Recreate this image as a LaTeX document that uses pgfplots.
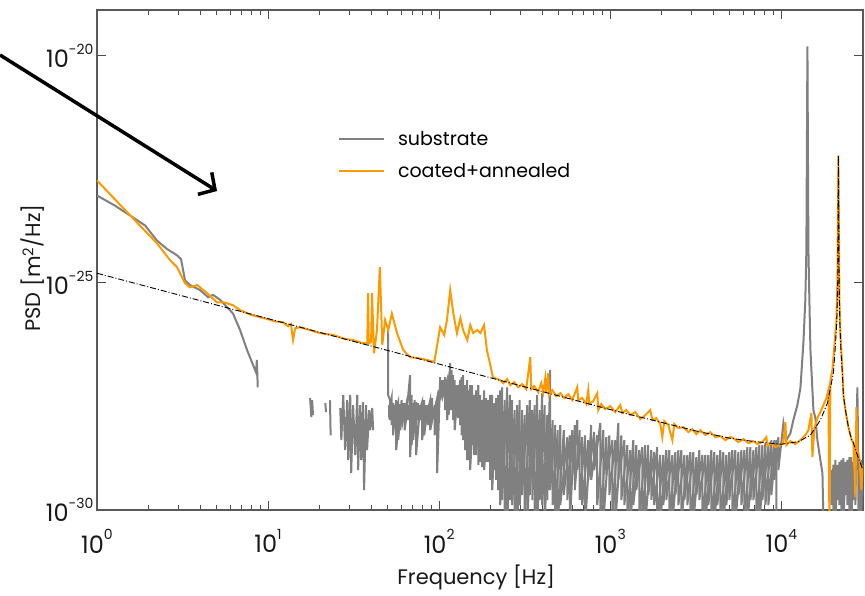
\documentclass[border=0pt]{standalone}
\usepackage{pgfplots}
\pgfplotsset{compat=1.18}
\usepackage{fontspec}
\setmainfont{Poppins}
\usetikzlibrary{arrows.meta}
\definecolor{sub}{RGB}{128,128,128}
\definecolor{coat}{RGB}{255,153,0}
\newcommand\tl[1]{10\raisebox{0.55em}{\fontsize{14}{14}\selectfont #1}}
\begin{document}
\begin{tikzpicture}
\begin{axis}[
 scale only axis, width=766pt, height=500pt,
 xmode=log, ymode=log,
 xmin=1, xmax=30000, ymin=1e-30, ymax=1e-19,
 xtick={1,10,100,1000,10000},
 xticklabels={\tl{0},\tl{1},\tl{2},\tl{3},\tl{4}},
 ytick={1e-30,1e-25,1e-20},
 yticklabels={\tl{-30},\tl{-25},\tl{-20}},
 yminorticks=false,
 tick align=inside,
 major tick length=9pt, minor tick length=5pt,
 axis line style={black!65, line width=1.2pt},
 tick style={black!70, line width=1pt},
 tick label style={font=\fontsize{24}{24}\selectfont, text=black!90},
 xticklabel style={yshift=-16pt},
 label style={font=\fontsize{21}{21}\selectfont, text=black!90},
 xlabel={Frequency [Hz]},
 ylabel={PSD [m\textsuperscript{2}/Hz]},
 xlabel style={at={(rel axis cs:0.495,-0.134)}, anchor=center},
 ylabel style={at={(rel axis cs:-0.0836,0.484)}, anchor=center},
 unbounded coords=jump,
 legend cell align=left,
 legend style={at={(rel axis cs:0.3105,0.765)}, anchor=north west, draw=none, fill=none,
   font=\fontsize{19}{19}\selectfont, row sep=12pt},
 legend image code/.code={\draw[#1] (0pt,0pt) -- (45pt,0pt); \path (56pt,0pt);},
]
% substrate
\addplot[sub, line width=2pt] coordinates {
(1,8.3e-24) (1.27,5.0e-24) (1.62,2.75e-24) (1.91,1.82e-24) (2.24,8.5e-25) (2.57,5.5e-25)
(2.94,4.0e-25) (3.1,3.3e-25) (3.27,1.12e-25) (3.5,8.9e-26) (4.0,6.9e-26) (4.46,4.8e-26)
(4.77,5.4e-26) (5.25,4.2e-26) (5.76,2.9e-26) (6.24,2.1e-26) (6.86,9.1e-27) (7.54,3.3e-27)
(8.17,1.55e-27) (8.5,1.07e-27) (8.6,2.0e-27) (8.7,5.0e-28) (8.8,nan)
(17.6,2.9e-28) (17.9,1.11e-28) (18.1,2.6e-28) (18.3,1.22e-28) (18.5,nan)
(21.6,2.25e-28) (21.8,1.43e-28) (22,nan)
(23.0,2.6e-28) (23.2,4.4e-29) (23.5,nan)
(26.4,1.75e-28) (26.8,3.45e-29) (27.5,3.4e-28) (28.2,2.08e-29) (29.0,2.6e-28) (29.4,1.26e-29)
(30.2,3.4e-28) (30.6,6.5e-30) (31.4,2.03e-28) (32.3,1.62e-29) (33.2,3.4e-28) (33.6,7.6e-30)
(34.5,2.03e-28) (35.0,1.26e-29) (35.9,2.37e-28) (36.4,2.75e-30) (37.4,2.03e-28) (37.9,2.08e-29)
(39.0,1.58e-28) (39.5,5.7e-29) (40.6,1.75e-28) (41.1,5.7e-29) (42,nan)
(50.3,1.05e-26) (50.3,3.4e-28) (51.7,2.6e-28) (51.7,9.5e-29) (53.8,2.25e-28) (53.8,4.4e-29)
(56.1,2.6e-28) (56.1,2.08e-29) (59.2,2.14e-28) (59.2,5.7e-29) (61.5,2.25e-28) (61.5,9.5e-29)
(64.1,2.03e-28) (64.1,1.05e-28) (67.6,9.3e-28) (67.6,1.46e-29) (70.5,2.25e-28) (70.5,3.45e-29)
(73.3,2.37e-28) (73.3,1.62e-29) (77.4,2.03e-28) (77.4,9.5e-29) (81.7,2.6e-28) (81.7,4.4e-29)
(86.2,2.03e-28) (86.2,7.4e-29) (91.0,2.9e-28) (91.0,9.5e-29) (97.3,2.9e-28) (97.3,6.5e-30)
(101.4,8.4e-28) (101.4,2.6e-28) (105.5,7.2e-28) (105.5,3.4e-28) (111.4,7.2e-28) (111.4,9.5e-29)
(115.9,1.7e-27) (115.9,1.58e-28) (120.8,9.3e-28) (120.8,9.5e-29) (125.7,5.6e-28) (125.7,1.22e-28)
(132.7,7.2e-28) (132.7,7.4e-29) (138.1,9.3e-28) (138.1,3.45e-29) (145.8,7.2e-28) (145.8,1.26e-29)
(151.7,5.6e-28) (151.7,7.6e-30) (160.2,3.4e-28) (160.2,1.62e-29) (169.2,5.6e-28) (169.2,9.8e-30)
(178.4,2.6e-28) (178.4,8.8e-30) (188.3,2.9e-28) (188.3,1.14e-29) (198.6,3.4e-28) (198.6,4.6e-30)
(209.9,2.25e-28) (209.9,7.6e-30) (221.3,3.4e-28) (221.3,2.75e-30) (233.5,5.0e-28) (233.5,1.66e-30)
(249.9,5.0e-28) (249.9,5e-31) (267.3,2.6e-28) (267.3,1.29e-30) (285.8,2.03e-28) (285.8,5e-31)
(305.6,1.58e-28) (305.6,2.14e-30) (327.2,2.03e-28) (327.2,5e-31) (349.9,1.58e-28) (349.9,1.66e-30)
(374.1,3.4e-28) (374.1,5e-31) (400.0,3.7e-28) (400.0,1.29e-30) (428.2,1.22e-28) (428.2,1.66e-30)
(445.7,1.19e-27) (445.7,2.75e-30) (476.5,7.4e-29) (476.5,5e-31) (510.2,7.4e-29) (510.2,1.29e-30)
(561.0,4.0e-29) (561.0,1.66e-30) (599.6,5.7e-29) (599.6,5.9e-30) (641.2,9.5e-29) (641.2,7.6e-30)
(685.5,4.0e-29) (685.5,1.29e-30) (743.0,3.45e-29) (743.0,4.6e-30) (805.4,5.2e-29) (805.4,7.6e-30)
(874.2,8.2e-29) (874.2,5e-31) (947.5,4.0e-29) (947.5,5.9e-30) (1028,3.45e-29) (1028,5e-31)
(1114,8.2e-29) (1114,4.6e-30) (1208,3.45e-29) (1208,1.29e-30) (1309,2.08e-29) (1309,5e-31)
(1419,2.68e-29) (1419,2.75e-30) (1538,2.42e-29) (1538,5e-31) (1667,2.68e-29) (1667,2.14e-30)
(1807,1.88e-29) (1807,1.29e-30) (1959,1.62e-29) (1959,5e-31) (2124,2.08e-29) (2124,1.66e-30)
(2305,1.62e-29) (2305,5e-31) (2500,2.08e-29) (2500,1.29e-30) (2710,1.62e-29) (2710,1.66e-30)
(2937,1.88e-29) (2937,5e-31) (3184,1.46e-29) (3184,2.14e-30) (3451,1.62e-29) (3451,5e-31)
(3741,1.62e-29) (3741,1.29e-30) (4055,1.88e-29) (4055,5e-31) (4395,2.08e-29) (4395,5e-31)
(4764,1.62e-29) (4764,1.29e-30) (5164,2.08e-29) (5164,5e-31) (5610,1.88e-29) (5610,2.14e-30)
(6081,2.08e-29) (6081,5e-31) (6592,2.42e-29) (6592,1.66e-30) (7145,2.42e-29) (7145,5e-31)
(7745,2.68e-29) (7745,1.66e-30) (8395,2.68e-29) (8395,1.29e-30) (9100,3.45e-29) (9100,4.6e-30)
(9600,4.0e-29) (9600,7.6e-30)
(10280,8.2e-29) (10690,3.45e-29) (11290,4.9e-29) (11750,9.5e-29) (12400,2.03e-28) (12920,4.8e-28)
(13450,4.7e-27) (13800,4.1e-26) (14000,5.2e-25) (14200,1.58e-20) (14390,5.2e-25) (14580,4.1e-26)
(14790,3.3e-27) (15390,1.58e-28) (15810,1.05e-28) (16240,3.45e-29) (16900,1.26e-29) (17380,6.5e-30)
(17620,5e-31) (18500,nan)
(19600,7.6e-30) (19600,1.29e-30) (20150,1.0e-29) (20150,5e-31) (20700,1.26e-29) (20700,5e-31)
(21270,9.8e-30) (21270,1.66e-30) (21840,1.14e-29) (21840,1.29e-30) (22450,1.26e-29) (22450,5e-31)
(23070,1.39e-29) (23070,5e-31) (23690,1.14e-29) (23690,2.14e-30) (24320,1.26e-29) (24320,1.29e-30)
(24970,1.46e-29) (24970,5e-31) (25640,1.46e-29) (25640,5e-31) (26360,1.14e-29) (26360,1.66e-30)
(27090,1.26e-29) (27090,1.29e-30) (27800,5.0e-28) (28190,1.14e-29) (28190,5e-31)
(28590,9.8e-30) (28590,1.66e-30) (29200,1.26e-29) (29200,5e-31) (29780,7.6e-30) (29780,2.14e-30)
};
\addlegendentry{substrate}
% substrate, interleaved samples of the noise band
\addplot[sub, line width=2pt, forget plot] coordinates {
(51.0,2.03e-28) (51.0,1.58e-28) (52.7,2.9e-28) (52.7,7.4e-29) (54.9,2.03e-28) (54.9,1.22e-28)
(57.6,2.37e-28) (57.6,3.45e-29) (60.3,2.6e-28) (60.3,1.05e-28) (62.8,2.25e-28) (62.8,5.7e-29)
(65.8,2.03e-28) (65.8,9.5e-29) (69.0,3.4e-28) (69.0,2.68e-29) (71.9,2.6e-28) (71.9,7.4e-29)
(75.3,2.25e-28) (75.3,1.22e-28) (79.5,2.37e-28) (79.5,3.45e-29) (83.9,2.03e-28) (83.9,1.05e-28)
(88.6,2.6e-28) (88.6,5.7e-29) (94.1,2.03e-28) (94.1,4.4e-29) (99.3,4.3e-28) (99.3,2.03e-28)
(103.4,7.2e-28) (103.4,2.9e-28) (108.4,8.4e-28) (108.4,1.58e-28) (113.6,9.3e-28) (113.6,1.22e-28)
(118.3,1.19e-27) (118.3,1.58e-28) (123.2,7.2e-28) (123.2,5.7e-29) (129.2,5.6e-28) (129.2,1.05e-28)
(135.4,8.4e-28) (135.4,4.4e-29) (141.9,5.6e-28) (141.9,2.08e-29) (148.7,4.3e-28) (148.7,1.26e-29)
(155.9,5.6e-28) (155.9,2.68e-29) (164.6,4.3e-28) (164.6,1.62e-29) (173.7,3.4e-28) (173.7,1.14e-29)
(183.3,4.3e-28) (183.3,7.6e-30) (193.4,2.6e-28) (193.4,1.14e-29) (204.2,3.4e-28) (204.2,2.75e-30)
(215.5,2.9e-28) (215.5,4.6e-30) (227.3,4.3e-28) (227.3,1.29e-30) (241.6,2.6e-28) (241.6,5e-31)
(258.5,3.4e-28) (258.5,1.66e-30) (276.4,1.58e-28) (276.4,5e-31) (295.5,2.6e-28) (295.5,1.29e-30)
(316.2,1.22e-28) (316.2,5e-31) (338.4,2.6e-28) (338.4,2.14e-30) (361.8,2.03e-28) (361.8,5e-31)
(386.8,1.58e-28) (386.8,1.66e-30) (413.9,2.03e-28) (413.9,5e-31) (436.9,1.22e-28) (436.9,2.75e-30)
(460.8,9.5e-29) (460.8,1.29e-30) (493.1,5.7e-29) (493.1,5e-31) (535.0,5.7e-29) (535.0,2.14e-30)
(580,4.4e-29) (580,5e-31) (620,7.4e-29) (620,2.75e-30) (663,5.7e-29) (663,1.66e-30)
(714,4.4e-29) (714,5e-31) (774,7.4e-29) (774,4.6e-30) (839,4.4e-29) (839,1.29e-30)
(910,5.7e-29) (910,5e-31) (987,4.4e-29) (987,2.14e-30) (1070,3.45e-29) (1070,5e-31)
(1160,4.4e-29) (1160,1.66e-30) (1257,2.68e-29) (1257,5e-31) (1363,3.45e-29) (1363,1.29e-30)
(1477,2.08e-29) (1477,5e-31) (1601,2.68e-29) (1601,5e-31) (1736,2.08e-29) (1736,1.66e-30)
(1881,2.42e-29) (1881,5e-31) (2040,1.62e-29) (2040,1.29e-30) (2213,2.08e-29) (2213,5e-31)
(2400,1.88e-29) (2400,2.14e-30) (2603,2.08e-29) (2603,5e-31) (2821,1.62e-29) (2821,1.29e-30)
(3058,1.88e-29) (3058,5e-31) (3315,2.08e-29) (3315,1.66e-30) (3593,1.62e-29) (3593,5e-31)
(3895,2.08e-29) (3895,5e-31) (4222,1.62e-29) (4222,1.29e-30) (4576,1.88e-29) (4576,5e-31)
(4960,1.88e-29) (4960,1.66e-30) (5382,2.08e-29) (5382,5e-31) (5841,2.08e-29) (5841,1.29e-30)
(6331,2.42e-29) (6331,5e-31) (6863,2.08e-29) (6863,1.66e-30) (7439,2.68e-29) (7439,5e-31)
(8063,3.0e-29) (8063,1.29e-30) (8740,3.45e-29) (8740,2.14e-30) (9347,3.45e-29) (9347,5e-31)
};
% coated + annealed
\addplot[coat, line width=2pt] coordinates {
(1,1.78e-23) (1.62,2.63e-24) (2.24,7.4e-25) (2.67,3.16e-25) (2.94,2.19e-25) (3.27,9.8e-26)
(3.5,7.9e-26) (3.85,8.9e-26) (4.4,5.9e-26) (5.03,3.7e-26) (5.53,3.7e-26) (6.24,3.2e-26)
(6.86,2.5e-26) (7.85,2.0e-26) (9.0,1.74e-26) (10,1.58e-26) (11,1.41e-26) (12.2,1.35e-26)
(13.1,1.1e-26) (13.6,1.23e-26) (14.0,5.5e-27) (14.4,1.0e-26) (15.4,1.05e-26) (17.6,9.1e-27)
(20,7.8e-27) (24,7.1e-27) (28.2,5.8e-27) (31.3,5.5e-27) (35.5,4.7e-27) (38,4.7e-27)
(38.4,5.9e-26) (38.8,4.6e-27) (40.0,5.0e-27) (40.5,5.9e-26) (41.6,2.8e-27) (43.3,9.1e-27)
(45,2.2e-25) (46.5,4.3e-27) (48.3,1.5e-26) (50.4,9.1e-27) (52.9,2.1e-26) (56.7,7.8e-27)
(61.7,3.3e-27) (67.6,2.3e-27) (75.3,2.2e-27) (85,2.0e-27) (93.6,1.8e-27) (101.3,1.05e-26)
(107,7.1e-27) (111,1.5e-26) (116,6.9e-26) (121,2.1e-26) (127,7.8e-27) (133,1.66e-26)
(138,9.1e-27) (146,5.5e-27) (152,1.17e-26) (158,7.8e-27) (167,9.1e-27) (174,7.8e-27)
(183,1.17e-26) (190,3.3e-27) (198,1.7e-27) (206,8.3e-28)
(227.3,7.19e-28) (236.7,6.18e-28) (249.9,7.57e-28) (260.2,5.58e-28) (274.6,6.50e-28) (289.7,5.05e-28)
(305.8,5.87e-28) (322.7,4.56e-28) (340.6,2.31e-27) (345.1,4.56e-28) (359.4,5.31e-28) (379.3,3.92e-28)
(395.0,6.18e-28) (405.7,3.92e-28) (416.8,7.96e-28) (422.5,3.72e-28) (434.1,1.03e-27) (440.0,3.37e-28)
(458.1,4.34e-28) (483.4,3.20e-28) (510.2,3.72e-28) (538.3,2.90e-28) (568.1,3.54e-28) (599.6,2.62e-28)
(641.2,5.05e-28) (650.0,2.62e-28) (686.0,2.90e-28) (723.8,2.14e-28) (743.6,4.34e-28) (753.6,2.14e-28)
(795.4,2.49e-28) (839.5,3.72e-28) (850.9,1.58e-28) (886.0,2.14e-28) (935.1,1.66e-28) (1000,1.93e-28)
(1070,1.43e-28) (1144,2.03e-28) (1176,1.36e-28) (1241,1.58e-28) (1309,1.22e-28) (1400,1.43e-28)
(1497,1.0e-28) (1602,1.22e-28) (1714,1.58e-28) (1761,9.5e-29) (1858,1.05e-28) (1961,7.76e-29)
(2014,4.02e-29) (2070,9.04e-29) (2184,7.38e-29) (2305,3.45e-29) (2367,7.76e-29) (2499,6.34e-29)
(2673,6.67e-29) (2858,5.18e-29) (3017,6.03e-29) (3184,4.68e-29) (3360,5.73e-29) (3594,4.45e-29)
(3843,5.18e-29) (4111,4.02e-29) (4398,4.23e-29) (4704,3.45e-29) (5031,4.02e-29) (5240,3.82e-29)
(5605,3.13e-29) (5995,3.63e-29) (6412,2.97e-29) (6859,3.28e-29) (7239,2.83e-29) (7743,3.13e-29)
(8172,4.02e-29) (8283,2.55e-29) (8741,2.97e-29) (9224,2.43e-29) (9866,2.69e-29) (10270,2.97e-29)
(10555,8.6e-29) (10696,2.69e-29) (11288,3.28e-29) (12075,2.83e-29) (12915,3.45e-29) (13815,4.45e-29)
(14386,5.73e-29) (14980,1.36e-28) (15183,1.46e-29) (15597,6.34e-29) (16238,1.05e-28) (16911,1.43e-28)
(17605,2.03e-28) (18334,2.90e-28) (18834,4.34e-28) (19090,5e-31) (19348,7.19e-28) (19876,1.19e-27)
(20418,4.23e-27) (20976,1.5e-26) (21260,1.135e-25) (21544,6.34e-23) (21838,4.12e-26) (22131,7.76e-27)
(22736,1.19e-27) (23044,3.37e-28) (23675,1.58e-28) (24647,6.67e-29) (25665,3.63e-29) (26366,2.97e-29)
(27080,1.93e-30) (27450,1.84e-28) (27825,2.08e-29) (28585,1.39e-29) (29365,2.75e-30) (29770,9.75e-30) (30000,7.57e-30)
};
\addlegendentry{coated+annealed}
% fit
\addplot[black, line width=0.9pt, dash pattern=on 6pt off 2pt on 1pt off 2pt, forget plot] coordinates {
(1,1.62e-25) (100,1.62e-27) (1000,1.62e-28) (3162,5.5e-29) (5000,3.8e-29) (7000,3.2e-29)
(10000,2.8e-29) (12600,3.2e-29) (14790,4.45e-29) (16900,9.5e-29) (18590,2.25e-28) (20140,1.03e-27)
(20700,4.2e-27) (21100,1.5e-26) (21350,1.1e-25) (21544,6.3e-23) (21750,1.1e-25) (21950,1.5e-26)
(22300,3.0e-27) (22736,1.0e-27) (23044,3.4e-28) (23675,1.6e-28) (24647,6.7e-29) (25665,3.6e-29)
(26366,3.0e-29) (28000,1.5e-29) (30000,7.6e-30)
};
\coordinate (A1) at (rel axis cs:-0.1266,0.91);
\coordinate (A2) at (rel axis cs:0.1567,0.638);
\coordinate (BL) at (rel axis cs:-0.12663,-0.17);
\coordinate (TR) at (rel axis cs:1.00261,1.02);
\end{axis}
\draw[line width=3.5pt, -{Straight Barb[length=12pt,width=26pt]}] (A1) -- (A2);
\pgfresetboundingbox
\path[use as bounding box] (BL) rectangle (TR);
\end{tikzpicture}
\end{document}
